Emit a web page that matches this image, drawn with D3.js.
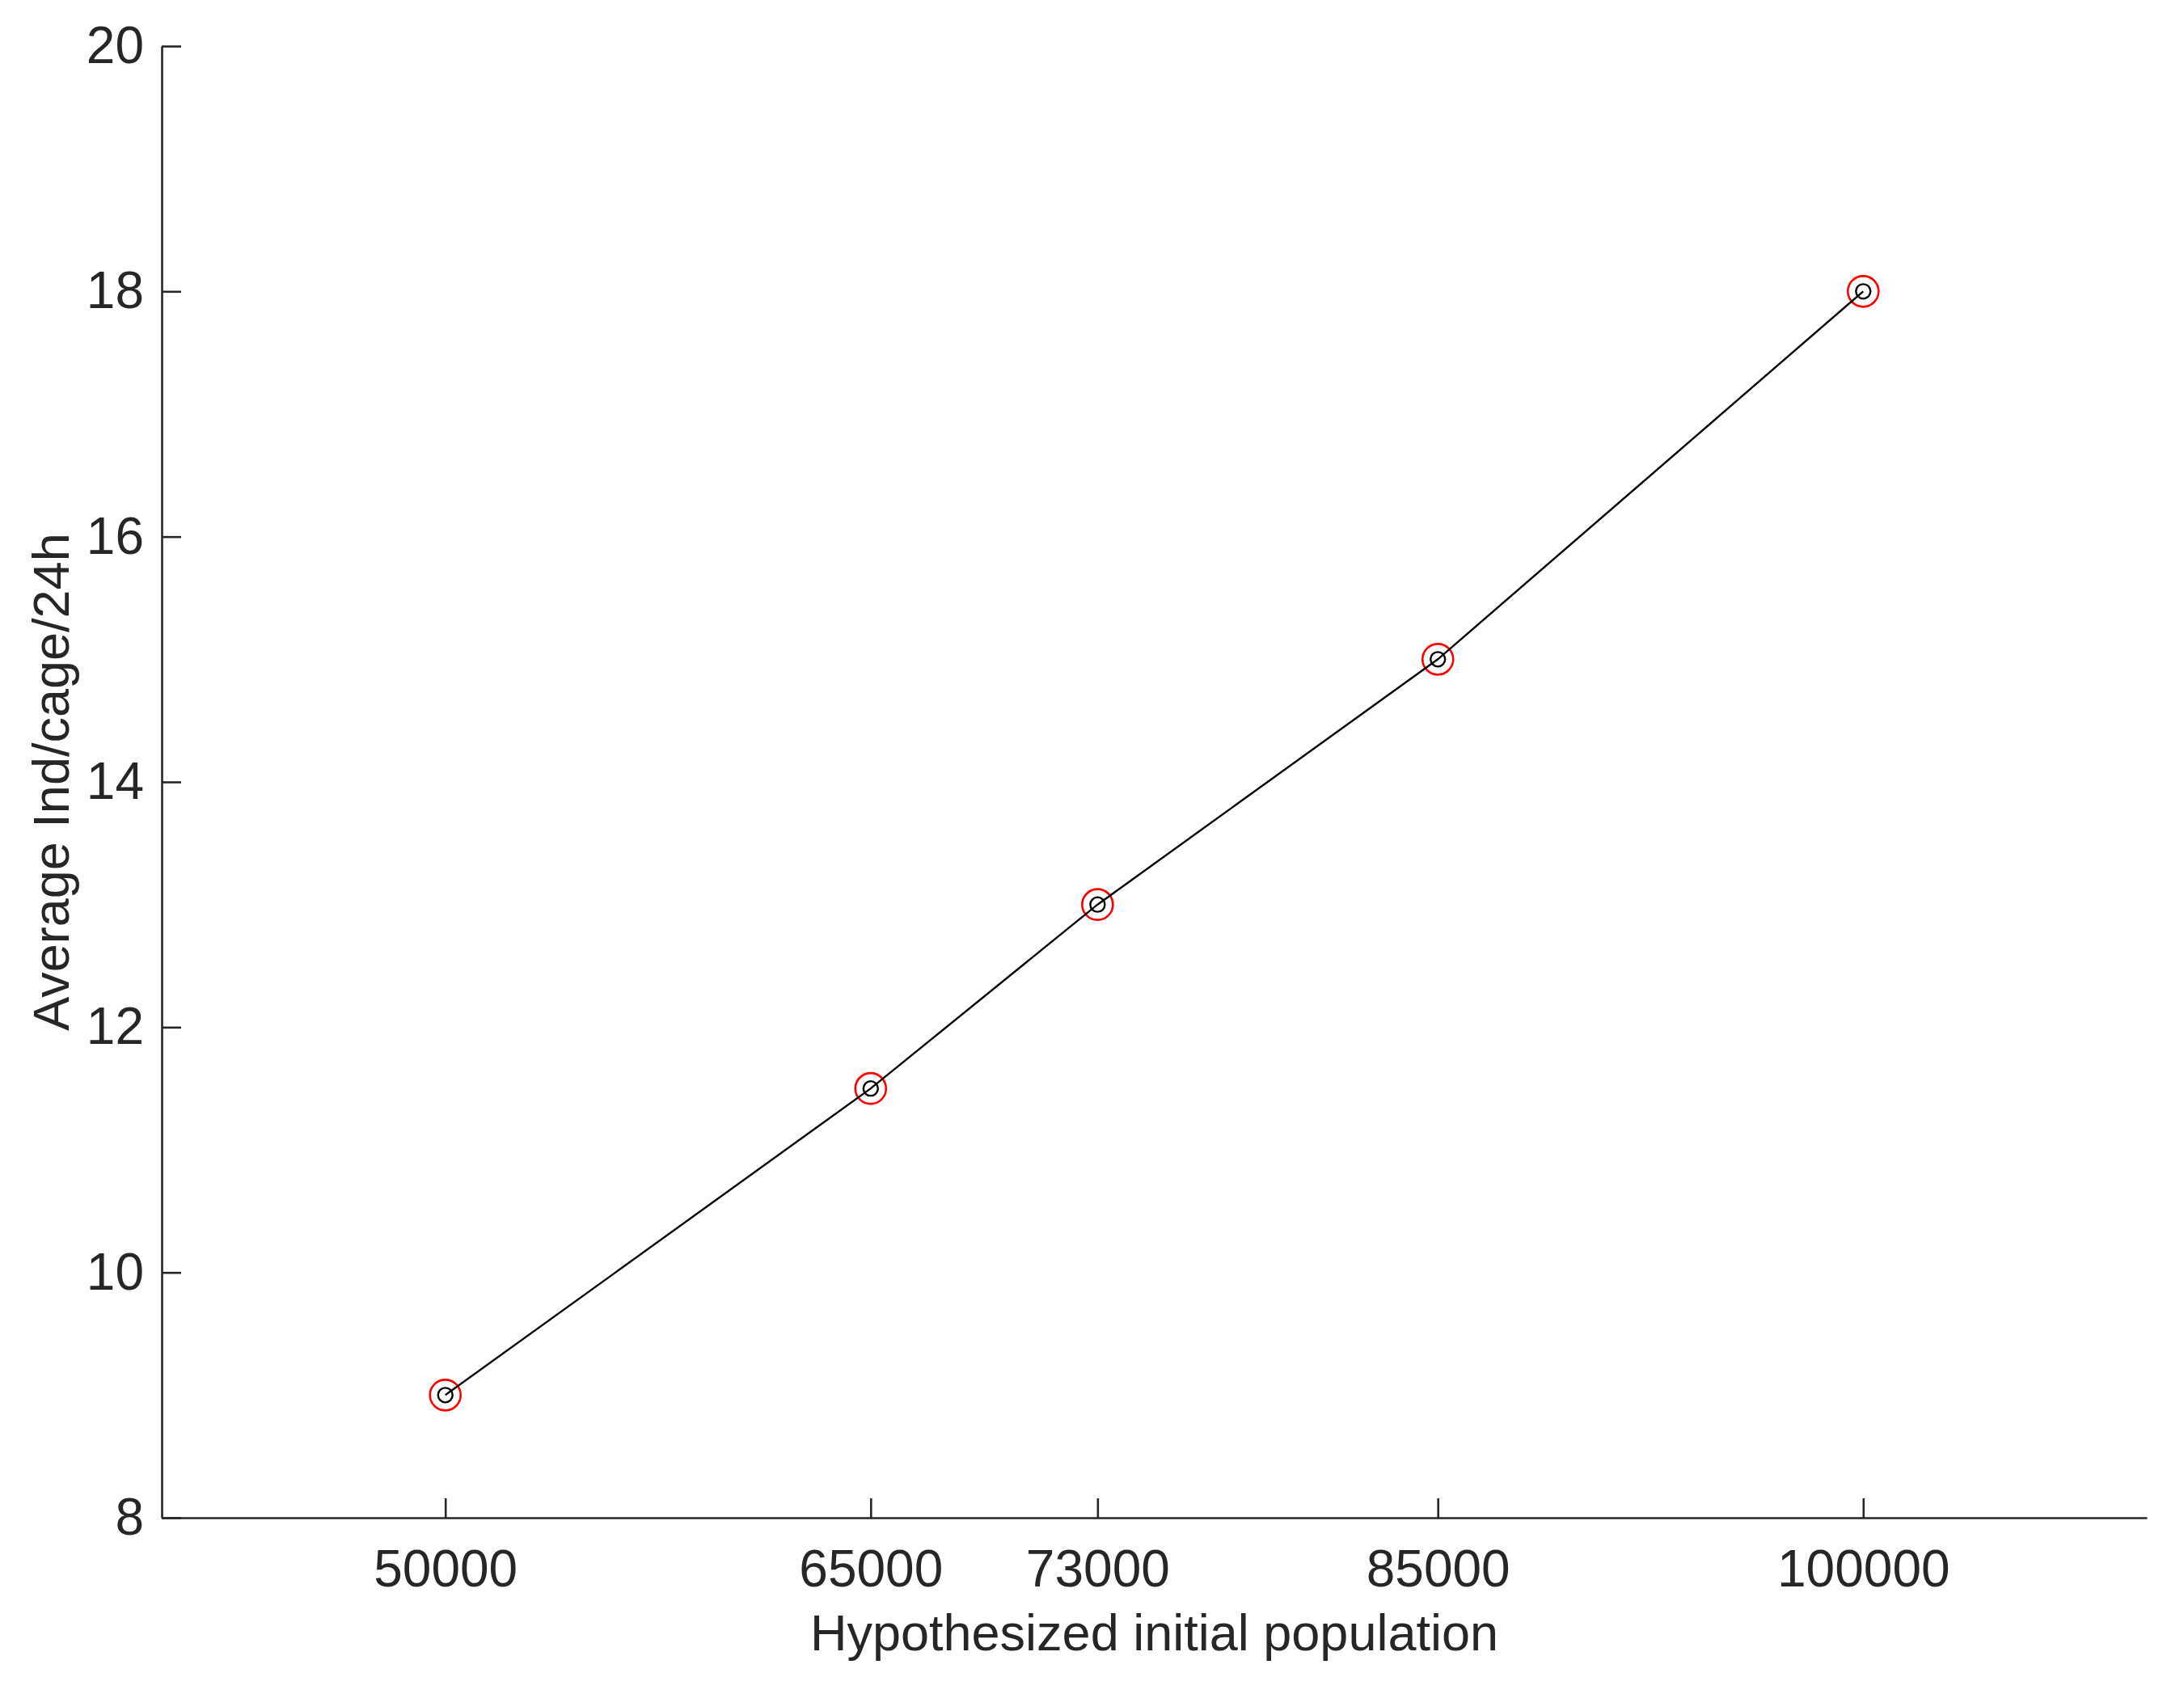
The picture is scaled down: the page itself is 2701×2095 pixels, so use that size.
<!DOCTYPE html>
<html>
<head>
<meta charset="utf-8">
<script src="https://cdn.jsdelivr.net/npm/d3@7"></script>
<style>
    body { margin: 0; background: #fff; }
    text { font-family: "Liberation Sans", Arial, sans-serif; fill: #262626; }
</style>
</head>
<body>
<div id="chart"></div>
<script>
const population = [50000, 65000, 73000, 85000, 100000];
const avgInd = [9, 11.5, 13, 15, 18];
const xTicks = [50000, 65000, 73000, 85000, 100000];
const yTicks = [8, 10, 12, 14, 16, 18, 20];

const width = 2701, height = 2095;
const margin = { left: 200, right: 46, top: 57, bottom: 218 };
const axisColor = '#262626';

const svg = d3.select('#chart').append('svg')
    .attr('width', width)
    .attr('height', height);

const x = d3.scaleLinear()
    .domain([40000, 110000])
    .range([margin.left, width - margin.right]);

const y = d3.scaleLinear()
    .domain([8, 20])
    .range([height - margin.bottom, margin.top]);

// axes, ticks pointing inward like matlab, no end caps
const xAxis = svg.append('g')
    .attr('transform', `translate(0,${height - margin.bottom})`)
    .call(d3.axisBottom(x).tickValues(xTicks).tickSize(-24).tickSizeOuter(0)
        .tickPadding(40).tickFormat(d3.format('d')));

const yAxis = svg.append('g')
    .attr('transform', `translate(${margin.left},0)`)
    .call(d3.axisLeft(y).tickValues(yTicks).tickSize(-24).tickSizeOuter(0)
        .tickPadding(22).tickFormat(d3.format('d')));

[xAxis, yAxis].forEach(g => {
    g.select('.domain').attr('stroke', axisColor).attr('stroke-width', 2.6);
    g.selectAll('.tick line').attr('stroke', axisColor).attr('stroke-width', 2.6);
    g.selectAll('.tick text')
        .attr('font-size', 64)
        .attr('fill', axisColor)
        .style('font-family', '"Liberation Sans", Arial, sans-serif');
});

const points = population.map((p, i) => ({ x: p, y: avgInd[i] }));

svg.append('g')
    .selectAll('circle')
    .data(points)
    .enter().append('circle')
    .attr('cx', d => x(d.x))
    .attr('cy', d => y(d.y))
    .attr('r', 19)
    .attr('fill', 'none')
    .attr('stroke', '#ff0000')
    .attr('stroke-width', 2.6);

const line = d3.line()
    .x(d => x(d.x))
    .y(d => y(d.y));

svg.append('path')
    .datum(points)
    .attr('d', line)
    .attr('fill', 'none')
    .attr('stroke', '#000')
    .attr('stroke-width', 2.4);

svg.append('g')
    .selectAll('circle')
    .data(points)
    .enter().append('circle')
    .attr('cx', d => x(d.x))
    .attr('cy', d => y(d.y))
    .attr('r', 9)
    .attr('fill', 'none')
    .attr('stroke', '#000')
    .attr('stroke-width', 2.4);

// axis labels
svg.append('text')
    .attr('x', (margin.left + width - margin.right) / 2)
    .attr('y', 2041)
    .attr('text-anchor', 'middle')
    .attr('font-size', 63)
    .text('Hypothesized initial population');

svg.append('text')
    .attr('transform', `translate(85,${(margin.top + height - margin.bottom) / 2}) rotate(-90)`)
    .attr('text-anchor', 'middle')
    .attr('font-size', 63)
    .text('Average Ind/cage/24h');
</script>
</body>
</html>
